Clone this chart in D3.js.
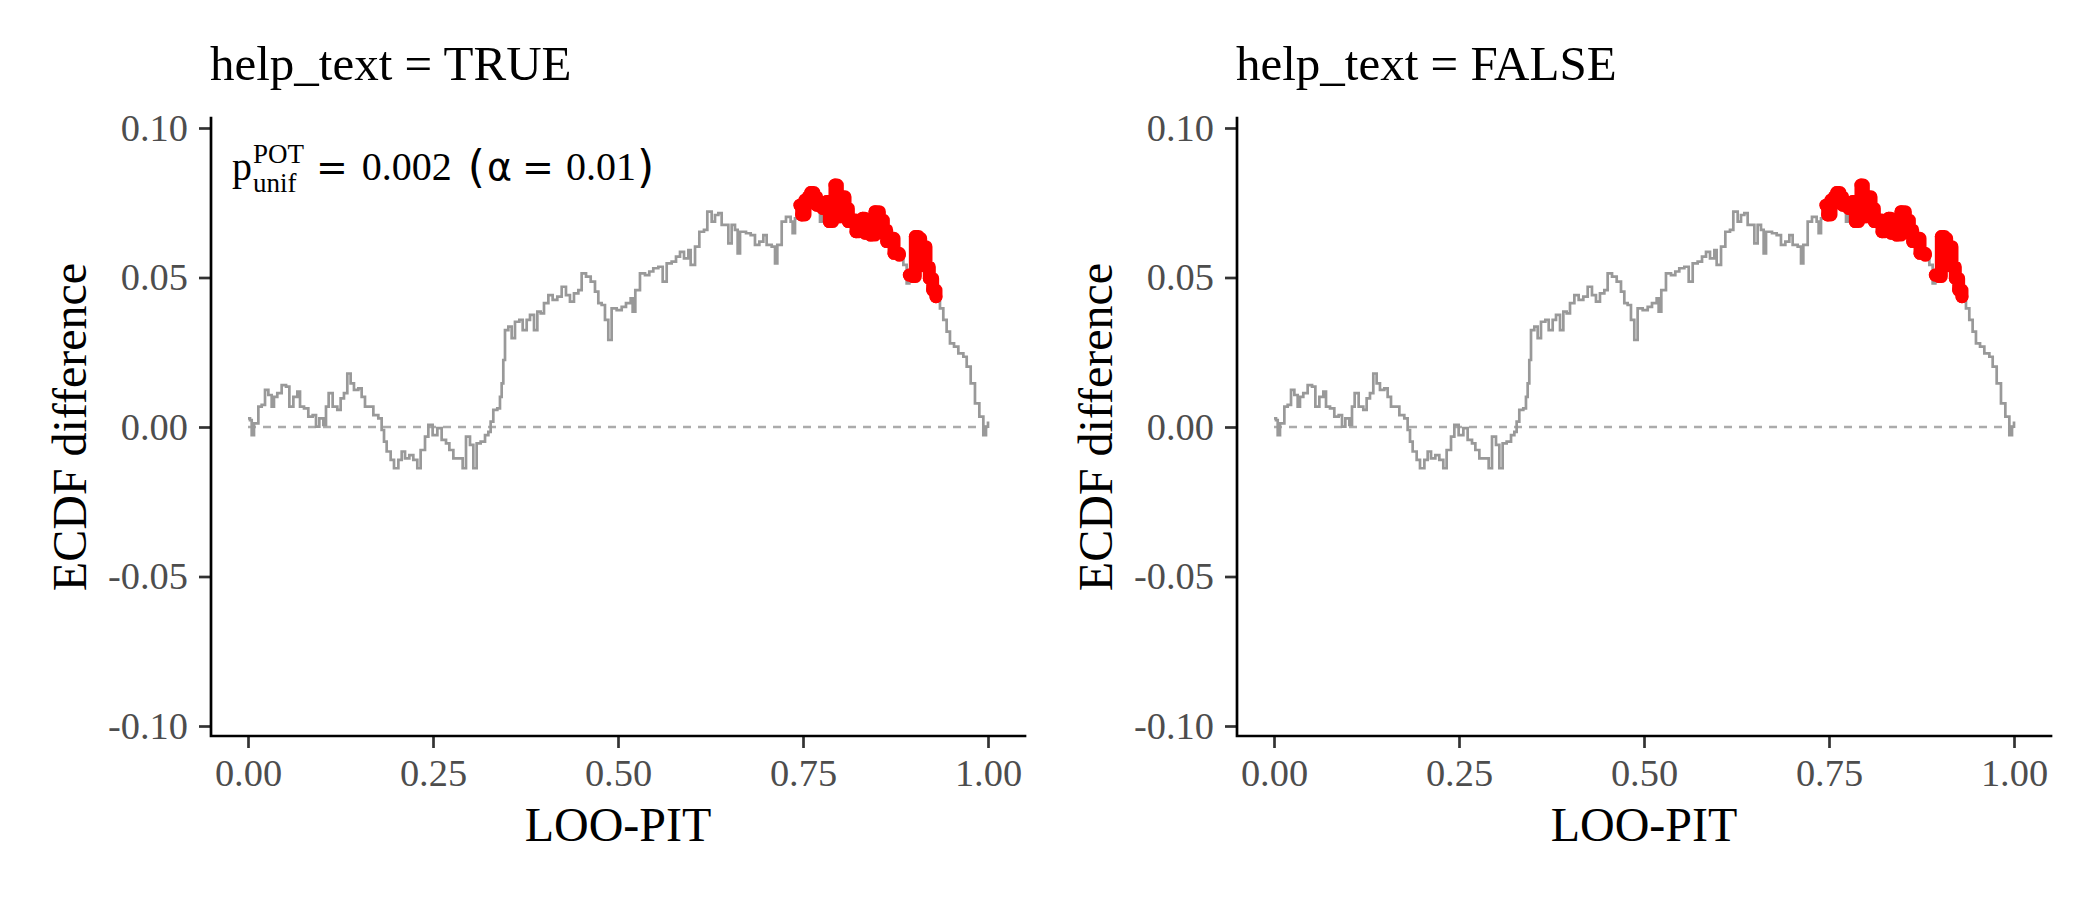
<!DOCTYPE html>
<html>
<head>
<meta charset="utf-8">
<script src="https://cdn.jsdelivr.net/npm/d3@7"></script>
<style>
    body { margin: 0; background: #fff; }
</style>
</head>
<body>
<svg id="chart" width="2100" height="900"></svg>
<script>
/**
 * Data: LOO-PIT grid and ECDF difference (same for both panels).
 */
const pitX = [
    0.000, 0.0027, 0.005, 0.0081, 0.014, 0.0185, 0.023, 0.0275, 0.032, 0.0351,
    0.0396, 0.0455, 0.0514, 0.0559, 0.0613, 0.0667, 0.0703, 0.0757, 0.0815, 0.0874,
    0.0919, 0.0964, 0.1018, 0.1054, 0.109, 0.1144, 0.1207, 0.1252, 0.1297, 0.1342,
    0.1387, 0.1432, 0.1491, 0.1536, 0.1581, 0.1649, 0.1694, 0.1761, 0.1806, 0.1838,
    0.1874, 0.1928, 0.1973, 0.2032, 0.2077, 0.2122, 0.218, 0.2234, 0.2288, 0.2333,
    0.2392, 0.2437, 0.2495, 0.2559, 0.2617, 0.2676, 0.2721, 0.2775, 0.2842, 0.2901,
    0.2946, 0.300, 0.3045, 0.309, 0.3144, 0.3203, 0.3248, 0.3279, 0.3315, 0.3369,
    0.3405, 0.3428, 0.345, 0.3473, 0.3518, 0.3563, 0.3608, 0.3667, 0.3712, 0.3766,
    0.3811, 0.3865, 0.391, 0.3955, 0.400, 0.4059, 0.4117, 0.418, 0.4239, 0.4297,
    0.4351, 0.4405, 0.4464, 0.4509, 0.4568, 0.4631, 0.4689, 0.4734, 0.4779, 0.4824,
    0.4869, 0.4914, 0.4982, 0.505, 0.5108, 0.5171, 0.5198, 0.5234, 0.5297, 0.5365,
    0.5423, 0.5477, 0.5545, 0.5604, 0.5658, 0.5725, 0.5784, 0.5838, 0.5892, 0.5951,
    0.5982, 0.6041, 0.6099, 0.6162, 0.6207, 0.6266, 0.6311, 0.6356, 0.6401, 0.6446,
    0.6491, 0.6536, 0.6581, 0.6617, 0.6649, 0.673, 0.6793, 0.6851, 0.691, 0.6964,
    0.7009, 0.7077, 0.7122, 0.7153, 0.7212, 0.727, 0.7333, 0.736, 0.7392, 0.7437,
    0.7459, 0.7482, 0.7527, 0.7572, 0.7604, 0.7649, 0.7685, 0.773, 0.7766, 0.782,
    0.7856, 0.7901, 0.7932, 0.7964, 0.7991, 0.8018, 0.8068, 0.8113, 0.8171, 0.8216,
    0.8261, 0.8306, 0.8338, 0.8414, 0.8473, 0.8532, 0.8586, 0.8631, 0.8685, 0.873,
    0.8802, 0.8856, 0.8901, 0.8937, 0.8991, 0.9018, 0.9063, 0.909, 0.9117, 0.9162,
    0.9207, 0.9252, 0.9297, 0.9351, 0.9396, 0.9441, 0.9486, 0.9541, 0.9599, 0.9667,
    0.9712, 0.9766, 0.9824, 0.9883, 0.9937, 0.9973, 1.000
];

const ecdfDiff = [
    0.0029, 0.0023, -0.0027, 0.0012, 0.0068, 0.0074, 0.0124, 0.0107, 0.0068, 0.0101,
    0.0113, 0.014, 0.0135, 0.0068, 0.0101, 0.0118, 0.0068, 0.0062, 0.0035, 0.004,
    0.0001, 0.0029, 0.0007, 0.0068, 0.0113, 0.0068, 0.0057, 0.0096, 0.0113, 0.0179,
    0.0146, 0.0124, 0.0129, 0.0101, 0.0068, 0.0068, 0.004, 0.0029, -0.001, -0.0049,
    -0.0082, -0.011, -0.0138, -0.011, -0.0082, -0.0105, -0.0094, -0.011, -0.0138, -0.0077,
    -0.0032, 0.0007, -0.0027, -0.0004, -0.0043, -0.0055, -0.0077, -0.0105, -0.0105, -0.0138,
    -0.0032, -0.006, -0.0138, -0.0055, -0.0049, -0.0027, -0.0016, 0.0018, 0.0057, 0.0062,
    0.0101, 0.0146, 0.0224, 0.0324, 0.0336, 0.0297, 0.0352, 0.0358, 0.0324, 0.0358,
    0.0375, 0.0324, 0.0386, 0.038, 0.0414, 0.0441, 0.0425, 0.0436, 0.0469, 0.0441,
    0.0419, 0.0447, 0.0458, 0.0514, 0.0503, 0.0486, 0.0453, 0.0414, 0.0408, 0.0358,
    0.0291, 0.0397, 0.0391, 0.0402, 0.0414, 0.043, 0.0386, 0.0458, 0.0514, 0.0508,
    0.052, 0.0531, 0.0536, 0.0486, 0.0547, 0.0553, 0.057, 0.0586, 0.0564, 0.0592,
    0.0542, 0.0603, 0.0653, 0.0659, 0.072, 0.0687, 0.0709, 0.0715, 0.0676, 0.0676,
    0.0614, 0.0676, 0.0659, 0.0581, 0.0653, 0.0648, 0.0642, 0.0609, 0.062, 0.0642,
    0.0609, 0.0603, 0.0547, 0.0609, 0.0687, 0.0703, 0.0687, 0.0648, 0.0698, 0.072,
    0.0742, 0.0709, 0.0759, 0.077, 0.0784, 0.077, 0.0742, 0.0687, 0.0731, 0.0754,
    0.0687, 0.0731, 0.0809, 0.0759, 0.0703, 0.077, 0.0731, 0.0687, 0.0692, 0.0653,
    0.0687, 0.0698, 0.0648, 0.0642, 0.072, 0.0692, 0.0659, 0.062, 0.0631, 0.0581,
    0.0575, 0.0542, 0.048, 0.0508, 0.0503, 0.0637, 0.0631, 0.0547, 0.0603, 0.0536,
    0.0497, 0.0458, 0.0436, 0.0397, 0.0358, 0.0319, 0.028, 0.0269, 0.0246, 0.0235,
    0.0202, 0.0146, 0.0079, 0.0035, -0.0027, 0.0001, 0.0018
];

// Stretches of the curve flagged by the POT test (drawn in red)
const redRanges = [[0.745, 0.770], [0.776, 0.884], [0.892, 0.931]];

const panelTitles = ['help_text = TRUE', 'help_text = FALSE'];
const xTicks = [0, 0.25, 0.5, 0.75, 1];
const yTicks = [-0.1, -0.05, 0, 0.05, 0.1];
const xLabel = 'LOO-PIT';
const yLabel = 'ECDF difference';

/**
 * Visual configs.
 */
const serif = '"Liberation Serif", "Times New Roman", serif',
    sans = '"DejaVu Sans", sans-serif',
    panelW = 814, panelH = 618, innerPad = 10,
    lineW = 2.7;

const panels = [
    { left: 211, top: 118, title: panelTitles[0], annotate: true },
    { left: 1237, top: 118, title: panelTitles[1], annotate: false }
];

const points = pitX.map((x, i) => ({ x: x, y: ecdfDiff[i] }));

const xScale = d3.scaleLinear().domain([-0.05, 1.05]).range([0, panelW]),
    yScale = d3.scaleLinear().domain([-0.1, 0.1]).range([panelH - innerPad, innerPad]);

const stepLine = d3.line()
    .x(d => xScale(d.x))
    .y(d => yScale(d.y))
    .curve(d3.curveStepAfter);

const svg = d3.select('#chart');

panels.forEach(p => drawPanel(p));

function drawPanel(p) {
    const g = svg.append('g').attr('transform', 'translate(' + p.left + ',' + p.top + ')');

    // Title
    g.append('text')
        .attr('x', -1)
        .attr('y', 80 - p.top)
        .style('font-family', serif)
        .style('font-size', '49px')
        .style('fill', '#000')
        .text(p.title);

    // Zero reference line
    g.append('line')
        .attr('x1', xScale(0)).attr('x2', xScale(1))
        .attr('y1', yScale(0)).attr('y2', yScale(0))
        .style('stroke', '#ababab')
        .style('stroke-width', lineW)
        .style('stroke-dasharray', '8,7');

    // ECDF difference
    g.append('path')
        .datum(points)
        .attr('d', stepLine)
        .style('fill', 'none')
        .style('stroke', '#999999')
        .style('stroke-width', lineW);

    // Flagged points
    redRanges.forEach(r => {
        const seg = points.filter(d => d.x >= r[0] && d.x <= r[1]);
        g.append('path')
            .datum(seg)
            .attr('d', stepLine)
            .style('fill', 'none')
            .style('stroke', '#ff0000')
            .style('stroke-width', 13)
            .style('stroke-linejoin', 'round')
            .style('stroke-linecap', 'round');
        g.selectAll(null).data(seg).enter().append('circle')
            .attr('cx', d => xScale(d.x))
            .attr('cy', d => yScale(d.y))
            .attr('r', 6.5)
            .style('fill', '#ff0000');
    });

    // Axes
    const xAxis = g.append('g')
        .attr('transform', 'translate(0,' + panelH + ')')
        .call(d3.axisBottom(xScale).tickValues(xTicks).tickFormat(d => d.toFixed(2))
            .tickSize(12).tickSizeOuter(0).tickPadding(11));
    const yAxis = g.append('g')
        .call(d3.axisLeft(yScale).tickValues(yTicks).tickFormat(d => d.toFixed(2))
            .tickSize(12).tickSizeOuter(0).tickPadding(11));

    [xAxis, yAxis].forEach(a => {
        a.select('.domain').remove();
        a.selectAll('.tick line').style('stroke', '#333333').style('stroke-width', lineW);
        a.selectAll('.tick text')
            .style('font-family', serif)
            .style('font-size', '38.4px')
            .style('fill', '#4d4d4d');
    });

    g.append('path')
        .attr('d', 'M0,0V' + panelH + 'H' + panelW)
        .style('fill', 'none')
        .style('stroke', '#000')
        .style('stroke-width', lineW)
        .style('stroke-linecap', 'square');

    // Axis titles
    g.append('text')
        .attr('x', panelW / 2)
        .attr('y', 841 - p.top)
        .attr('text-anchor', 'middle')
        .style('font-family', serif)
        .style('font-size', '48px')
        .text(xLabel);

    g.append('text')
        .attr('transform', 'translate(-125,' + (panelH / 2) + ') rotate(-90)')
        .attr('text-anchor', 'middle')
        .style('font-family', serif)
        .style('font-size', '48px')
        .text(yLabel);

    if (p.annotate) drawAnnotation(g, 232 - p.left, 180 - p.top);
}

/**
 * p_unif^POT = 0.002 (alpha = 0.01), laid out piece by piece.
 */
function drawAnnotation(g, x0, base) {
    const a = g.append('g').attr('class', 'annotation');
    let x = x0;

    function piece(txt, font, size, dy, gapAfter) {
        const t = a.append('text')
            .attr('x', x)
            .attr('y', base + dy)
            .style('font-family', font)
            .style('font-size', size + 'px')
            .style('fill', '#000')
            .text(txt);
        return t.node().getComputedTextLength() + (gapAfter || 0);
    }

    x += piece('p', serif, 40, 0, 1);
    const w1 = piece('POT', serif, 27, -17),
        w2 = piece('unif', serif, 27, 12);
    x += Math.max(w1, w2) + 12;
    x += piece('=', sans, 38, 0, 14);
    x += piece('0.002', serif, 40, 0, 16);
    x += piece('(', sans, 44, 2, 2);
    x += piece('α', sans, 38, 0, 10);
    x += piece('=', sans, 38, 0, 12);
    x += piece('0.01', serif, 40, 0, 1);
    piece(')', sans, 44, 2);
}
</script>
</body>
</html>
